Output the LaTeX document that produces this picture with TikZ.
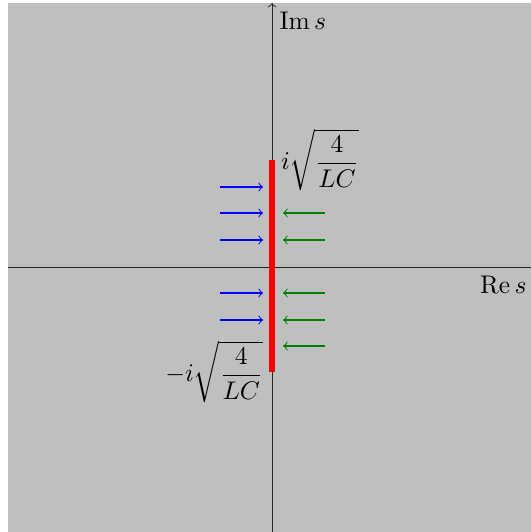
\documentclass[tikz,border=0pt]{standalone}
\usepackage{amsmath}
\begin{document}
\begin{tikzpicture}[x=0.392pt,y=-0.392pt,
  axis/.style={line width=0.35pt,black!85},
  inarrow/.style={->,line width=0.4pt,blue},
  outarrow/.style={<-,line width=0.4pt,green!50!black},
  cut/.style={line width=2pt,red}]
\useasboundingbox (0,0) rectangle (530,532);
\fill[lightgray] (8,3) rectangle (540,540);
% axes
\coordinate (xl) at (8,267);
\coordinate (xr) at (545,267);
\coordinate (yb) at (272,540);
\coordinate (yt) at (272,3);
\draw[axis] (xl) -- (xr);
\draw[axis,->] (yb) -- (yt);
\node[anchor=north east,inner sep=0pt] (re) at (527,276) {$\operatorname{Re} s$};
\node[anchor=north west,inner sep=0pt] (im) at (279,12) {$\operatorname{Im} s$};
% cut
\coordinate (ct) at (272,160);
\coordinate (cb) at (272,372);
\draw[cut] (ct) -- (cb);
\node[right] (lt) at (ct) {$i\sqrt{\dfrac{4}{LC}}$};
\node[left] (lb) at (cb) {$-i\sqrt{\dfrac{4}{LC}}$};
% blue arrows
\foreach \y/\n in {187/a,213/b,240/c,293/d,320/e}{
  \coordinate (bs\n) at (220,\y);
  \coordinate (be\n) at (263,\y);
  \draw[inarrow] (bs\n) -- (be\n);
}
% green arrows
\foreach \y/\n in {213/b,240/c,293/d,320/e,346/f}{
  \coordinate (gs\n) at (283,\y);
  \coordinate (ge\n) at (325,\y);
  \draw[outarrow] (gs\n) -- (ge\n);
}
\end{tikzpicture}
\end{document}
